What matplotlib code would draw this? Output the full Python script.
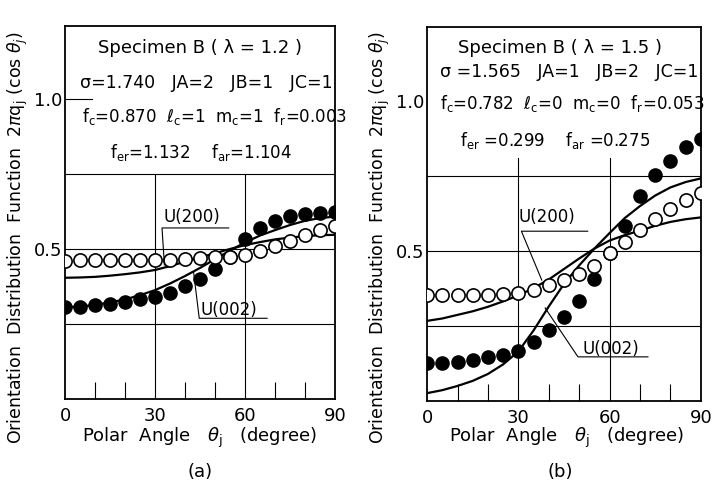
import numpy as np
import matplotlib
matplotlib.use('Agg')
import matplotlib.pyplot as plt

plt.rcParams['font.family'] = ['DejaVu Sans']

theta = [0, 5, 10, 15, 20, 25, 30, 35, 40, 45, 50, 55, 60, 65, 70, 75, 80, 85, 90]

# (a) Specimen B, lambda = 1.2
a_open = [0.461, 0.462, 0.462, 0.462, 0.463, 0.463, 0.463, 0.464, 0.467, 0.470,
          0.472, 0.474, 0.481, 0.494, 0.509, 0.527, 0.548, 0.562, 0.575]
a_filled = [0.307, 0.308, 0.313, 0.317, 0.324, 0.332, 0.341, 0.354, 0.378, 0.401,
            0.432, 0.474, 0.533, 0.571, 0.594, 0.609, 0.618, 0.620, 0.622]
a_u200 = [0.404, 0.405, 0.407, 0.411, 0.416, 0.422, 0.430, 0.443, 0.458, 0.472,
          0.486, 0.500, 0.513, 0.523, 0.532, 0.538, 0.543, 0.546, 0.547]
a_u002 = [0.306, 0.308, 0.314, 0.322, 0.332, 0.346, 0.363, 0.385, 0.410, 0.437,
          0.466, 0.495, 0.522, 0.545, 0.563, 0.580, 0.594, 0.603, 0.608]

# (b) Specimen B, lambda = 1.5
b_open = [0.353, 0.353, 0.353, 0.353, 0.354, 0.355, 0.361, 0.370, 0.386, 0.402,
          0.423, 0.450, 0.492, 0.531, 0.570, 0.606, 0.639, 0.670, 0.692]
b_filled = [0.126, 0.127, 0.130, 0.137, 0.146, 0.153, 0.168, 0.198, 0.237, 0.279,
            0.334, 0.406, 0.492, 0.583, 0.683, 0.753, 0.801, 0.846, 0.872]
b_u200 = [0.267, 0.275, 0.287, 0.299, 0.314, 0.332, 0.352, 0.376, 0.405, 0.440,
          0.475, 0.508, 0.535, 0.553, 0.568, 0.584, 0.597, 0.606, 0.612]
b_u002 = [0.026, 0.036, 0.050, 0.067, 0.090, 0.122, 0.165, 0.235, 0.315, 0.390,
          0.452, 0.508, 0.560, 0.610, 0.650, 0.685, 0.712, 0.730, 0.742]

a_text = ['Specimen B ( λ = 1.2 )',
          'σ=1.740   JA=2   JB=1   JC=1',
          r'$\mathrm{f_c}$=0.870  $\ell_\mathrm{c}$=1  $\mathrm{m_c}$=1  $\mathrm{f_r}$=0.003',
          r'$\mathrm{f_{er}}$=1.132    $\mathrm{f_{ar}}$=1.104']
b_text = ['Specimen B ( λ = 1.5 )',
          'σ =1.565   JA=1   JB=2   JC=1',
          r'$\mathrm{f_c}$=0.782  $\ell_\mathrm{c}$=0  $\mathrm{m_c}$=0  $\mathrm{f_r}$=0.053',
          r'$\mathrm{f_{er}}$ =0.299    $\mathrm{f_{ar}}$ =0.275']

ylab = r'Orientation  Distribution  Function  $2\pi\mathrm{q_j}\ (\mathrm{cos}\ \theta_j)$'
xlab = r'Polar  Angle   $\theta_\mathrm{j}$   (degree)'

fig = plt.figure(figsize=(7.13, 4.86), dpi=100)
ax1 = fig.add_axes([0.0912, 0.179, 0.379, 0.7675])
ax2 = fig.add_axes([0.599, 0.175, 0.384, 0.7695])


def panel(ax, ytop, opn, fil, u200, u002, vtop, short1):
    ax.set_xlim(0, 90)
    ax.set_ylim(0, ytop)
    for s in ax.spines.values():
        s.set_linewidth(1.3)
    for v in [0.25, 0.5, 0.75]:
        ax.axhline(v, color='k', lw=0.8, zorder=1)
    if short1:
        ax.axhline(1.0, xmax=0.1, color='k', lw=0.8, zorder=1)
    for t in [30, 60]:
        ax.axvline(t, ymax=vtop / ytop, color='k', lw=0.8, zorder=1)
    ax.plot(theta, u200, 'k-', lw=1.6, zorder=2)
    ax.plot(theta, u002, 'k-', lw=1.6, zorder=2)
    ax.plot(theta, fil, 'o', color='k', ms=9.5, zorder=3)
    ax.plot(theta, opn, 'o', mfc='white', mec='k', mew=1.2, ms=9.5, zorder=4)
    ax.set_xticks([0, 30, 60, 90])
    ax.set_xticks([10, 20, 40, 50, 70, 80], minor=True)
    ax.set_yticks([0.5, 1.0])
    ax.set_yticklabels(['0.5', '1.0'])
    ax.tick_params(axis='x', which='major', length=0, pad=6, labelsize=13)
    ax.tick_params(axis='x', which='minor', direction='in', length=12, width=0.8)
    ax.tick_params(axis='y', length=0, pad=2, labelsize=13)


def label(ax, txt, tx, ty, ux0, ux1, uy, lx, ly):
    ax.text(tx, ty, txt, fontsize=12, ha='left', va='center', zorder=5)
    ax.plot([ux1, ux0, lx], [uy, uy, ly], 'k-', lw=0.8, zorder=5)


panel(ax1, 1.243, a_open, a_filled, a_u200, a_u002, 0.75, True)
panel(ax2, 1.247, b_open, b_filled, b_u200, b_u002, 0.81, False)

label(ax1, 'U(200)', 32.7, 0.605, 32.3, 54.5, 0.57, 33.1, 0.447)
label(ax1, 'U(002)', 45.2, 0.298, 44.7, 67.3, 0.269, 42.8, 0.424)
label(ax2, 'U(200)', 30.2, 0.612, 31.0, 52.8, 0.566, 37.7, 0.403)
label(ax2, 'U(002)', 51.2, 0.172, 49.6, 72.6, 0.147, 38.8, 0.310)

ax1.text(45, 1.17, a_text[0], fontsize=13, ha='center', va='center')
ax1.text(5, 1.053, a_text[1], fontsize=12.5, ha='left', va='center')
ax1.text(5.7, 0.943, a_text[2], fontsize=12, ha='left', va='center', clip_on=False)
ax1.text(15, 0.82, a_text[3], fontsize=12, ha='left', va='center')

ax2.text(43.7, 1.177, b_text[0], fontsize=13, ha='center', va='center')
ax2.text(4.3, 1.097, b_text[1], fontsize=12.5, ha='left', va='center')
ax2.text(4.3, 0.993, b_text[2], fontsize=12, ha='left', va='center', clip_on=False)
ax2.text(10.8, 0.87, b_text[3], fontsize=12, ha='left', va='center')

fig.text(18 / 713, 1 - 237 / 486, ylab, rotation=90, ha='center', va='center', fontsize=12.5)
fig.text(380 / 713, 1 - 237 / 486, ylab, rotation=90, ha='center', va='center', fontsize=12.5)
fig.text(200 / 713, 1 - 438 / 486, xlab, ha='center', va='center', fontsize=13)
fig.text(567 / 713, 1 - 438 / 486, xlab, ha='center', va='center', fontsize=13)
fig.text(200 / 713, 1 - 472 / 486, '(a)', ha='center', va='center', fontsize=13)
fig.text(560 / 713, 1 - 472 / 486, '(b)', ha='center', va='center', fontsize=13)

plt.savefig('out.png', dpi=100)
